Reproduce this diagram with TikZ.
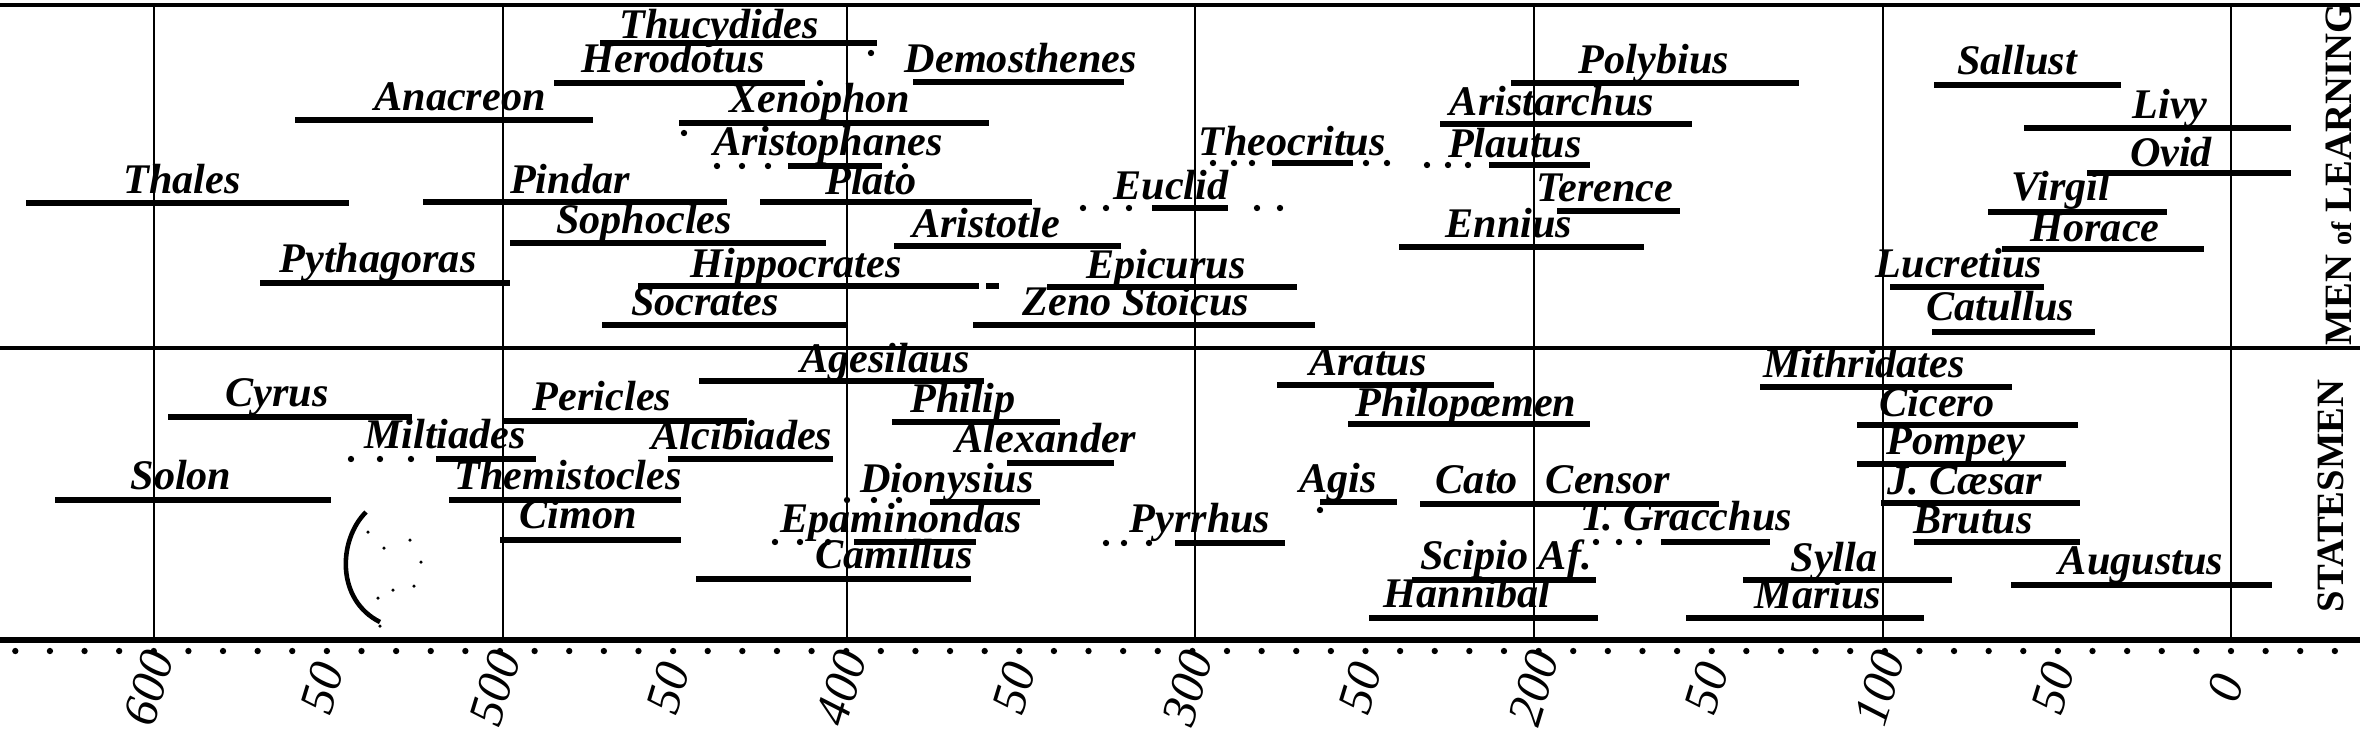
\documentclass[tikz,border=0pt]{standalone}
\usepackage{fontspec}
\setmainfont{Liberation Serif}

\begin{document}
\begin{tikzpicture}[
  x=0.01cm, y=-0.01cm,
  nameLabel/.style={font=\fontsize{12}{14}\selectfont\bfseries\itshape, inner sep=0pt, anchor=base},
  lifeBar/.style={line width=1.7pt},
  ruleLine/.style={line width=1.4pt},
  gridLine/.style={line width=0.5pt},
  yearLabel/.style={font=\fontsize{14}{16}\selectfont\itshape, rotate=73, inner sep=0pt},
  sideLabel/.style={font=\fontsize{11}{13}\selectfont\bfseries, rotate=90, anchor=west, inner sep=0pt}
]
\useasboundingbox (0,0) rectangle (2360,729);
\fill[white] (0,0) rectangle (2360,729);

% frame of the chart
\foreach \gx in {154,503,847,1195,1534,1883,2231}
  \draw[gridLine] (\gx,5) -- (\gx,640);
\draw[ruleLine] (0,5) -- (2360,5);
\draw[ruleLine] (0,348) -- (2360,348);
\draw[line width=1.8pt] (0,640) -- (2360,640);

% scale of years
\foreach \yr in {-30,-20,...,640}
  \fill ({2231-3.462*\yr},651) circle (0.9pt);
\foreach \yr/\lab in {600/600,550/50,500/500,450/50,400/400,350/50,300/300,250/50,200/200,150/50,100/100,50/50,0/0}
  \node[yearLabel] (yr\yr) at ({2226-3.462*\yr},688) {\lab};

% men of learning
\node[nameLabel] (thucydides) at (719,38) {Thucydides};
\draw[lifeBar] (600,43) -- (877,43);
\fill (871,53) circle (0.9pt);
\node[nameLabel] (herodotus) at (673,72) {Herodotus};
\draw[lifeBar] (554,83) -- (805,83);
\fill (820,83) circle (0.9pt);
\node[nameLabel] (anacreon) at (460,110) {Anacreon};
\draw[lifeBar] (295,120) -- (593,120);
\node[nameLabel] (demosthenes) at (1021,72) {Demosthenes};
\draw[lifeBar] (913,82) -- (1124,82);
\node[nameLabel] (xenophon) at (820,112) {Xenophon};
\draw[lifeBar] (679,123) -- (989,123);
\fill (684,133) circle (0.9pt);
\node[nameLabel] (aristophanes) at (828,155) {Aristophanes};
\foreach \dx in {717,742,768,905} \fill (\dx,166) circle (0.9pt);
\draw[lifeBar] (788,166) -- (882,166);
\node[nameLabel] (thales) at (182,193) {Thales};
\draw[lifeBar] (26,203) -- (349,203);
\node[nameLabel] (pindar) at (570,193) {Pindar};
\draw[lifeBar] (423,202) -- (727,202);
\node[nameLabel] (plato) at (871,194) {Plato};
\draw[lifeBar] (760,202) -- (1032,202);
\node[nameLabel] (euclid) at (1171,199) {Euclid};
\foreach \dx in {1083,1106,1129,1257,1280} \fill (\dx,208) circle (0.9pt);
\draw[lifeBar] (1152,208) -- (1228,208);
\node[nameLabel] (theocritus) at (1292,155) {Theocritus};
\foreach \dx in {1213,1234,1252,1366,1387} \fill (\dx,163) circle (0.9pt);
\draw[lifeBar] (1272,163) -- (1353,163);
\node[nameLabel] (plautus) at (1515,157) {Plautus};
\foreach \dx in {1427,1448,1468} \fill (\dx,165) circle (0.9pt);
\draw[lifeBar] (1489,165) -- (1590,165);
\node[nameLabel] (aristarchus) at (1552,115) {Aristarchus};
\draw[lifeBar] (1440,124) -- (1692,124);
\node[nameLabel] (polybius) at (1654,73) {Polybius};
\draw[lifeBar] (1511,83) -- (1799,83);
\node[nameLabel] (sophocles) at (644,233) {Sophocles};
\draw[lifeBar] (510,243) -- (826,243);
\node[nameLabel] (aristotle) at (986,237) {Aristotle};
\draw[lifeBar] (894,246) -- (1121,246);
\node[nameLabel] (terence) at (1605,201) {Terence};
\draw[lifeBar] (1557,211) -- (1680,211);
\node[nameLabel] (ennius) at (1509,237) {Ennius};
\draw[lifeBar] (1399,247) -- (1644,247);
\node[nameLabel] (pythagoras) at (378,272) {Pythagoras};
\draw[lifeBar] (260,283) -- (510,283);
\node[nameLabel] (hippocrates) at (796,277) {Hippocrates};
\draw[lifeBar] (638,286) -- (979,286);
\draw[lifeBar] (986,286) -- (999,286);
\node[nameLabel] (epicurus) at (1166,278) {Epicurus};
\draw[lifeBar] (1047,287) -- (1297,287);
\node[nameLabel] (socrates) at (705,315) {Socrates};
\draw[lifeBar] (602,325) -- (848,325);
\node[nameLabel] (zeno) at (1136,315) {Zeno Stoicus};
\draw[lifeBar] (973,325) -- (1315,325);
\node[nameLabel] (sallust) at (2017,74) {Sallust};
\draw[lifeBar] (1934,85) -- (2121,85);
\node[nameLabel] (livy) at (2170,118) {Livy};
\draw[lifeBar] (2024,128) -- (2291,128);
\node[nameLabel] (ovid) at (2171,166) {Ovid};
\draw[lifeBar] (2087,173) -- (2291,173);
\node[nameLabel] (virgil) at (2061,200) {Virgil};
\draw[lifeBar] (1988,212) -- (2167,212);
\node[nameLabel] (horace) at (2095,241) {Horace};
\draw[lifeBar] (2002,249) -- (2204,249);
\node[nameLabel] (lucretius) at (1959,277) {Lucretius};
\draw[lifeBar] (1890,287) -- (2044,287);
\node[nameLabel] (catullus) at (2000,320) {Catullus};
\draw[lifeBar] (1932,332) -- (2095,332);

% statesmen
\node[nameLabel] (agesilaus) at (885,372) {Agesilaus};
\draw[lifeBar] (699,381) -- (984,381);
\node[nameLabel] (cyrus) at (277,406) {Cyrus};
\draw[lifeBar] (168,417) -- (412,417);
\node[nameLabel] (pericles) at (602,410) {Pericles};
\draw[lifeBar] (503,421) -- (747,421);
\node[nameLabel] (miltiades) at (445,448) {Miltiades};
\foreach \dx in {351,380,411} \fill (\dx,459) circle (0.9pt);
\draw[lifeBar] (436,459) -- (536,459);
\node[nameLabel] (alcibiades) at (742,449) {Alcibiades};
\draw[lifeBar] (668,459) -- (833,459);
\node[nameLabel] (philip) at (963,412) {Philip};
\draw[lifeBar] (892,422) -- (1060,422);
\node[nameLabel] (alexander) at (1046,452) {Alexander};
\draw[lifeBar] (1007,463) -- (1114,463);
\node[nameLabel] (solon) at (181,489) {Solon};
\draw[lifeBar] (55,500) -- (331,500);
\node[nameLabel] (themistocles) at (568,489) {Themistocles};
\draw[lifeBar] (449,500) -- (681,500);
\node[nameLabel] (dionysius) at (947,492) {Dionysius};
\foreach \dx in {847,874,899} \fill (\dx,500) circle (0.9pt);
\draw[lifeBar] (930,502) -- (1040,502);
\node[nameLabel] (cimon) at (578,528) {Cimon};
\draw[lifeBar] (500,540) -- (681,540);
\node[nameLabel] (epaminondas) at (901,532) {Epaminondas};
\foreach \dx in {775,800,828} \fill (\dx,542) circle (0.9pt);
\draw[lifeBar] (854,542) -- (976,542);
\node[nameLabel] (camillus) at (894,568) {Camillus};
\draw[lifeBar] (696,579) -- (971,579);
\node[nameLabel] (pyrrhus) at (1200,532) {Pyrrhus};
\foreach \dx in {1106,1124,1149} \fill (\dx,543) circle (0.9pt);
\draw[lifeBar] (1175,543) -- (1285,543);
\node[nameLabel] (aratus) at (1368,375) {Aratus};
\draw[lifeBar] (1277,385) -- (1494,385);
\node[nameLabel] (philopoemen) at (1466,416) {Philopœmen};
\draw[lifeBar] (1348,424) -- (1590,424);
\node[nameLabel] (agis) at (1338,492) {Agis};
\draw[lifeBar] (1320,502) -- (1397,502);
\fill (1320,510) circle (0.9pt);
\node[nameLabel] (cato) at (1553,493) {Cato\hspace{8pt}Censor};
\draw[lifeBar] (1420,504) -- (1719,504);
\node[nameLabel] (gracchus) at (1686,530) {T. Gracchus};
\foreach \dx in {1596,1619,1639} \fill (\dx,542) circle (0.9pt);
\draw[lifeBar] (1661,542) -- (1770,542);
\node[nameLabel] (scipio) at (1506,569) {Scipio Af.};
\draw[lifeBar] (1412,580) -- (1596,580);
\node[nameLabel] (hannibal) at (1467,607) {Hannibal};
\draw[lifeBar] (1369,618) -- (1598,618);
\node[nameLabel] (mithridates) at (1864,377) {Mithridates};
\draw[lifeBar] (1760,387) -- (2012,387);
\node[nameLabel] (cicero) at (1937,416) {Cicero};
\draw[lifeBar] (1857,425) -- (2078,425);
\node[nameLabel] (pompey) at (1956,454) {Pompey};
\draw[lifeBar] (1857,464) -- (2066,464);
\node[nameLabel] (caesar) at (1965,494) {J. Cæsar};
\draw[lifeBar] (1881,503) -- (2080,503);
\node[nameLabel] (brutus) at (1973,533) {Brutus};
\draw[lifeBar] (1914,542) -- (2080,542);
\node[nameLabel] (sylla) at (1834,571) {Sylla};
\draw[lifeBar] (1743,580) -- (1952,580);
\node[nameLabel] (augustus) at (2141,574) {Augustus};
\draw[lifeBar] (2011,585) -- (2272,585);
\node[nameLabel] (marius) at (1818,608) {Marius};
\draw[lifeBar] (1686,618) -- (1924,618);

% library stamp
\draw[line width=1.3pt] (366,512) .. controls (338,540) and (336,600) .. (380,622);
\foreach \sx/\sy in {368/532,384/548,410/540,421/562,378/598,393/590,414/586,380/626}
  \fill (\sx,\sy) circle (0.5pt);

% side titles
\node[sideLabel] (learning) at (2339,346) {MEN {\fontsize{8}{9}\selectfont of} LEARNING};
\node[sideLabel] (statesmen) at (2331,613) {STATESMEN};
\end{tikzpicture}
\end{document}
